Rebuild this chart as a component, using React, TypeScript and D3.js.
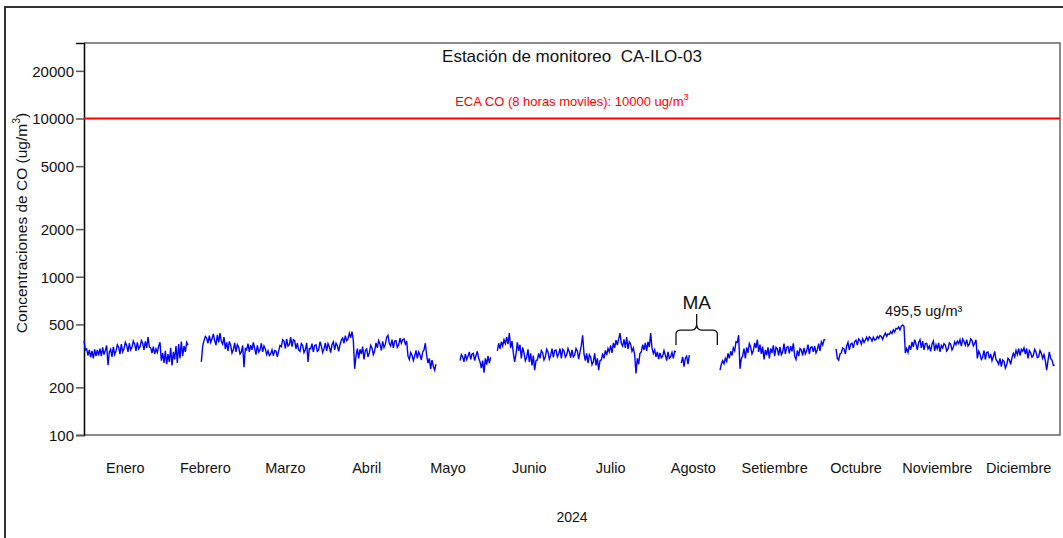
import { useRef, useEffect } from 'react'
import * as d3 from 'd3'

// nombres de los meses (eje x)
const months = ["Enero", "Febrero", "Marzo", "Abril", "Mayo", "Junio", "Julio", "Agosto", "Setiembre", "Octubre", "Noviembre", "Diciembre"]
const yTicks = [100, 200, 500, 1000, 2000, 5000, 10000, 20000]
const ecaValue = 10000
const peakValue = 495.5

// CO 8h moving average, two readings per day (00h, 12h), ug/m3; null = sin datos
const enero = [395, 345, 350, 318, 345, 310, 340, 305, 348, 315, 345, 318, 352, 315, 358, 322, 342, 368, 276, 335,
  348, 312, 360, 322, 340, 372, 358, 325, 375, 335, 350, 385, 368, 335, 380, 345, 358, 392, 375, 340,
  385, 350, 360, 395, 380, 345, 390, 355, 415, 360, 355, 330, 362, 325, 350, 332, 365, 385, 295, 330, 285, 340]
const febrero = [280, 325, 290, 355, 275, 335, 300, 365, 285, 375, 305, 390, 315, 365, 335, 385, 370, null,
  null, null, null, null, null, null, null, null, 290, 365, 395, 420, 410, 380, 425, 385, 405, 435, 395, 370,
  430, 385, 440, 390, 375, 415, 350, 385, 340, 390, 370, 330, 345, 382, 335, 372, 358, 325, 335, 368]
const marzo = [268, 352, 345, 378, 335, 370, 345, 385, 352, 322, 368, 335, 345, 380, 335, 365, 350, 322, 340, 318,
  325, 345, 318, 342, 338, 312, 340, 368, 362, 400, 392, 352, 405, 365, 372, 415, 362, 400, 395, 350,
  380, 345, 338, 378, 368, 332, 345, 382, 290, 352, 350, 378, 335, 368, 372, 338, 345, 388, 365, 332, 350, 382]
const abril = [340, 378, 360, 332, 372, 388, 345, 380, 368, 338, 372, 398, 410, 380, 425, 395, 405, 440, 412, 450,
  395, 262, 315, 352, 305, 348, 325, 362, 300, 342, 350, 312, 330, 368, 355, 322, 340, 382, 355, 395,
  375, 342, 390, 358, 375, 415, 427, 378, 365, 400, 355, 392, 395, 358, 370, 410, 380, 400, 405, 375]
const mayo = [392, 315, 300, 332, 320, 295, 315, 342, 305, 335, 322, 298, 335, 345, 380, 318, 285, 305, 262, 297,
  272, 257, 280, null, null, null, null, null, null, null, null, null, null, null, null, null, null, null, null, null,
  295, 322, 312, 290, 325, 300, 315, 335, 300, 325, 328, 295, 318, 338, 305, 290, 265, 295, 248, 305, 278, 315]
const junio = [285, 310, null, null, null, null, 340, 380, 350, 388, 365, 400, 378, 415, 375, 440, 355, 392, 330, 290,
  325, 385, 340, 372, 305, 358, 330, 295, 310, 348, 290, 328, 275, 318, 257, 295, 298, 328, 305, 342,
  330, 298, 312, 348, 335, 302, 318, 352, 310, 342, 345, 312, 325, 352, 305, 348, 340, 310, 320, 352]
const julio = [335, 308, 345, 312, 320, 352, 340, 302, 335, 368, 427, 325, 295, 328, 285, 322, 310, 278, 290, 328,
  275, 305, 257, 295, 298, 328, 305, 342, 320, 352, 335, 368, 330, 382, 355, 398, 370, 405, 440, 378,
  365, 402, 355, 415, 350, 388, 375, 338, 355, 322, 245, 305, 280, 328, 335, 372, 345, 382, 340, 388, 360, 440]
const agosto = [355, 328, 345, 312, 335, 302, 330, 308, 315, 342, 320, 295, 335, 305, 312, 332, 305, 338, 335, null,
  null, null, 285, 312, 270, 305, 315, 280, 320, null, null, null, null, null, null, null, null, null, null, null,
  null, null, null, null, null, null, null, null, null, null, null, 257, 280, 295, 282, 305, 292, 328, 305, 338, 318, 355]
const setiembre = [340, 388, 385, 427, 262, 305, 315, 352, 305, 358, 330, 378, 360, 325, 340, 382, 355, 400, 335, 372,
  325, 362, 300, 345, 320, 358, 305, 352, 330, 368, 315, 358, 350, 318, 360, 322, 335, 378, 325, 358,
  362, 328, 365, 338, 380, 315, 300, 342, 315, 352, 345, 318, 355, 325, 340, 372, 325, 358, 360, 335]
const octubre = [365, 330, 345, 378, 340, 388, 370, 400, 400, null, null, null, null, null, null, null, 350, 305, 297, 325,
  330, 355, 350, 325, 365, 385, 345, 375, 380, 355, 390, 398, 370, 405, 395, 375, 405, 385, 398, 415,
  395, 418, 410, 392, 415, 398, 402, 420, 408, 425, 420, 402, 425, 440, 420, 435, 432, 450, 438, 462, 448, 472]
const noviembre = [468, 482, 462, 488, 495.5, 485, 330, 352, 332, 368, 345, 388, 360, 400, 375, 345, 385, 400, 355, 392,
  345, 378, 380, 350, 365, 338, 375, 392, 340, 372, 350, 382, 335, 368, 355, 378, 370, 340, 350, 382,
  375, 345, 358, 388, 372, 392, 378, 400, 365, 405, 390, 370, 400, 365, 375, 405, 395, 365, 380, 400]
const diciembre = [305, 338, 325, 300, 310, 342, 300, 332, 335, 305, 325, 295, 312, 338, 300, 292, 280, 305, 270, 298,
  292, 265, 278, 305, 298, 280, 308, 328, 312, 342, 322, 352, 318, 348, 338, 355, 325, 352, 305, 342,
  330, 310, 318, 348, 335, 308, 312, 342, 328, 305, 322, 295, 257, 295, 335, 305, 298, 275, 276, null, null, null]

const series = [enero, febrero, marzo, abril, mayo, junio, julio, agosto, setiembre, octubre, noviembre, diciembre]

export default function App() {
  const ref = useRef(null)

  useEffect(() => {
    const width = 1063
    const height = 538
    const left = 84, right = 1060, top = 43, bottom = 435
    const font = "'Liberation Sans', Arial, sans-serif"

    const points = []
    series.forEach((vals, m) => {
      vals.forEach((v, i) => {
        points.push({ date: new Date(2024, m, 1 + Math.floor(i / 2), (i % 2) * 12), value: v })
      })
    })

    const x = d3.scaleTime().domain([new Date(2024, 0, 1), new Date(2025, 0, 1)]).range([left, right])
    const y = d3.scaleLog().domain([100, 30000]).range([bottom, top])

    const svg = d3.select(ref.current)
    svg.selectAll("*").remove()
    svg.attr("width", width).attr("height", height)
      .style("font-family", font)

    svg.append("rect").attr("width", width).attr("height", height).attr("fill", "white")

    // marco exterior
    svg.append("rect")
      .attr("x", 5).attr("y", 7).attr("width", 1080).attr("height", 560)
      .attr("fill", "none").attr("stroke", "#333").attr("stroke-width", 2)

    // marco del grafico
    svg.append("path")
      .attr("d", `M${left},${top}H${right}V${bottom}H${left}`)
      .attr("fill", "none").attr("stroke", "#666").attr("stroke-width", 1.5)

    // eje y
    const yAxis = svg.append("g").attr("transform", `translate(${left},0)`)
      .call(d3.axisLeft(y).tickValues(yTicks).tickSize(8).tickPadding(2).tickFormat(d3.format("d")))
    yAxis.select(".domain").attr("stroke", "#000").attr("stroke-width", 1.5)
    yAxis.selectAll(".tick line").attr("stroke", "#555").attr("stroke-width", 1.5)
    yAxis.selectAll(".tick text").attr("font-size", 15).attr("font-family", font).attr("fill", "#111").attr("dy", "0.36em")

    // etiquetas de meses
    months.forEach((name, m) => {
      const mid = (x(new Date(2024, m, 1)) + x(new Date(2024, m + 1, 1))) / 2
      svg.append("text").attr("x", mid).attr("y", 473).attr("text-anchor", "middle")
        .attr("font-size", 14.5).attr("fill", "#111").text(name)
    })
    svg.append("text").attr("x", (left + right) / 2).attr("y", 522).attr("text-anchor", "middle")
      .attr("font-size", 14).attr("fill", "#111").text("2024")

    // titulo eje y
    const yl = svg.append("text").attr("transform", `translate(26.5,${223}) rotate(-90)`)
      .attr("text-anchor", "middle").attr("font-size", 15.5).attr("fill", "#111")
    yl.append("tspan").text("Concentraciones de CO (ug/m")
    yl.append("tspan").attr("font-size", 10.5).attr("dy", -7).text("3")
    yl.append("tspan").attr("dy", 7).text(")")

    // titulo
    svg.append("text").attr("x", 572).attr("y", 62).attr("text-anchor", "middle")
      .attr("font-size", 17).attr("fill", "#111").attr("xml:space", "preserve")
      .text("Estación de monitoreo  CA-ILO-03")

    // linea ECA
    svg.append("line").attr("x1", left).attr("x2", right).attr("y1", y(ecaValue)).attr("y2", y(ecaValue))
      .attr("stroke", "#ff0000").attr("stroke-width", 2)
    const eca = svg.append("text").attr("x", 572).attr("y", y(ecaValue) - 13).attr("text-anchor", "middle")
      .attr("font-size", 13).attr("fill", "#ff0000")
    eca.append("tspan").text("ECA CO (8 horas moviles): 10000 ug/m")
    eca.append("tspan").attr("font-size", 9.5).attr("dy", -6).text("3")

    // serie
    const line = d3.line()
      .defined(d => d.value != null)
      .x(d => x(d.date))
      .y(d => y(d.value))
    svg.append("path").datum(points)
      .attr("d", line)
      .attr("fill", "none").attr("stroke", "#0000ff").attr("stroke-width", 1.4)

    // llave MA
    const x0 = x(new Date(2024, 7, 10)), x1 = x(new Date(2024, 7, 25, 12)), xm = (x0 + x1) / 2
    const yb = y(370), yt = yb - 15
    svg.append("path")
      .attr("d", `M${x0},${yb}L${x0},${yt + 4}Q${x0},${yt} ${x0 + 5},${yt}L${xm - 5},${yt}Q${xm},${yt} ${xm},${yt - 6}L${xm},${yt - 16}M${xm},${yt - 6}Q${xm},${yt} ${xm + 5},${yt}L${x1 - 5},${yt}Q${x1},${yt} ${x1},${yt + 4}L${x1},${yb}`)
      .attr("fill", "none").attr("stroke", "#111").attr("stroke-width", 1.3)
    svg.append("text").attr("x", xm).attr("y", yt - 21).attr("text-anchor", "middle")
      .attr("font-size", 19).attr("fill", "#111").text("MA")

    // valor maximo
    const px = x(new Date(2024, 10, 3))
    svg.append("text").attr("x", px + 21).attr("y", y(peakValue) - 9).attr("text-anchor", "middle")
      .attr("font-size", 14.5).attr("fill", "#111").text("495,5 ug/m³")
  }, [])

  return <svg ref={ref} style={{ position: 'absolute', left: 0, top: 0 }} />
}
